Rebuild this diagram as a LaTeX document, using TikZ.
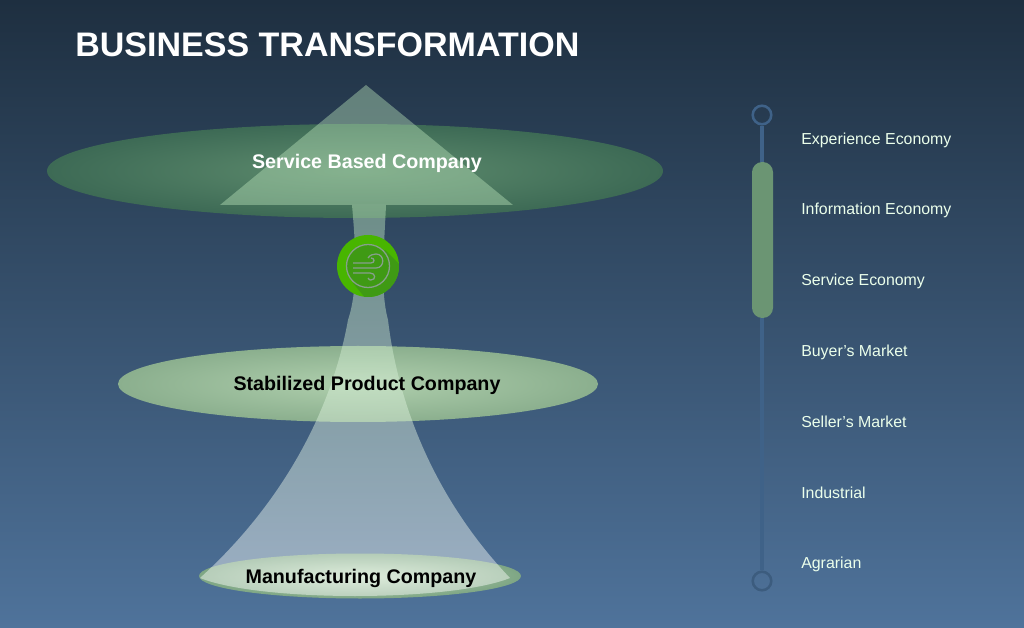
\documentclass[tikz,border=0pt]{standalone}
\usepackage{xcolor}
\usepackage{fontspec}
\usepackage{tikz}
\usetikzlibrary{positioning,shapes.geometric}
\setmainfont{Liberation Sans}

\definecolor{bgtop}{HTML}{1E2F40}
\definecolor{bgbottom}{HTML}{4F739B}
\definecolor{railblue}{HTML}{3F6288}
\definecolor{railfade}{HTML}{3C5C7E}
\definecolor{pillgreen}{HTML}{6B9573}
\definecolor{hubgreen}{HTML}{48B500}
\definecolor{hubdark}{HTML}{3F9A14}
\definecolor{iconline}{HTML}{86A08C}
\definecolor{tint}{HTML}{BCE6BC}
\definecolor{servicein}{HTML}{5E8C6E}
\definecolor{serviceout}{HTML}{3D6A55}
\definecolor{productin}{HTML}{AFCFAD}
\definecolor{productout}{HTML}{8BAF8E}
\definecolor{makein}{HTML}{C6DEC2}
\definecolor{makeout}{HTML}{7EA684}

\tikzset{
	plate/.style={ellipse,inner sep=0pt},
	platelabel/.style={inner sep=0pt,font=\fontsize{14}{16}\selectfont\bfseries},
	stagelabel/.style={anchor=west,inner sep=0pt,text=white!92!green,font=\fontsize{11.3}{13}\selectfont},
	railend/.style={circle,line width=1.8pt,minimum size=13.2pt,inner sep=0pt}
}

\begin{document}
\begin{tikzpicture}[x=0.025cm,y=-0.025cm]

	\fill[top color=bgtop,bottom color=bgbottom] (0,0) rectangle (1024,628);
	\useasboundingbox (0,0) rectangle (1024,628);

	\node[anchor=west,inner sep=0pt,text=white,font=\fontsize{24.2}{30}\selectfont\bfseries] (title) at (75,44.5) {BUSINESS TRANSFORMATION};

	\node[plate,minimum width=616*0.025cm,minimum height=94*0.025cm,inner color=servicein,outer color=serviceout] (service) at (355,171) {};
	\node[plate,minimum width=480*0.025cm,minimum height=76*0.025cm,inner color=productin,outer color=productout] (product) at (358,384) {};
	\node[plate,minimum width=322*0.025cm,minimum height=45*0.025cm,inner color=makein,outer color=makeout] (manufacturing) at (360,576) {};

	\fill[tint,opacity=0.42] (366,85) -- (513,205) -- (220,205) -- cycle;
	\shade[top color=tint,bottom color=white,opacity=0.45] (352,205) .. controls (356,250) and (358,290) .. (348,320) .. controls (330,420) and (275,510) .. (200,578) .. controls (260,602) and (450,602) .. (510,578) .. controls (445,510) and (400,420) .. (388,320) .. controls (380,290) and (384,250) .. (386,205) -- cycle;

	\node[platelabel,text=white] (servicelabel) at (367,163) {Service Based Company};
	\node[platelabel,text=black] (productlabel) at (367,385.5) {Stabilized Product Company};
	\node[platelabel,text=black] (manufacturinglabel) at (361,578.5) {Manufacturing Company};

	\node[circle,fill=hubgreen,minimum size=62*0.025cm,inner sep=0pt] (hub) at (368,266) {};
	\begin{scope}
		\clip (368,266) circle (31);
		\fill[hubdark] (353,283) -- (385,250) -- (410,275) -- (375,310) -- cycle;
	\end{scope}
	\node[circle,fill=hubdark,draw=iconline,line width=0.9pt,minimum size=43*0.025cm,inner sep=0pt] (hubinner) at (368,266) {};
	\draw[iconline,line width=0.9pt] (353,263) -- (371,263) .. controls (375,263) and (375,258) .. (371,258);
	\draw[iconline,line width=0.9pt] (353,268) -- (376,268) .. controls (385,268) and (385,254) .. (376,254) .. controls (373,254) and (370,255) .. (368,258);
	\draw[iconline,line width=0.9pt] (353,273) -- (370,273) .. controls (376,273) and (376,280) .. (371,280) .. controls (370,280) and (369,280) .. (368,278);

	\node[railend,draw=railblue] (railtop) at (762,115) {};
	\node[railend,draw=railfade] (railbottom) at (762,581) {};
	\draw[railblue,line width=2.6pt] (railtop) -- (railbottom);
	\node[rectangle,rounded corners=7.3pt,fill=pillgreen,minimum width=21*0.025cm,minimum height=156*0.025cm,inner sep=0pt] (pill) at (762.5,240) {};

	\node[stagelabel] (experience) at (801,140) {Experience Economy};
	\node[stagelabel] (information) at (801,210.5) {Information Economy};
	\node[stagelabel] (serviceeco) at (801,281.5) {Service Economy};
	\node[stagelabel] (buyer) at (801,352) {Buyer’s Market};
	\node[stagelabel] (seller) at (801,422) {Seller’s Market};
	\node[stagelabel] (industrial) at (801,493) {Industrial};
	\node[stagelabel] (agrarian) at (801,564) {Agrarian};

\end{tikzpicture}
\end{document}
